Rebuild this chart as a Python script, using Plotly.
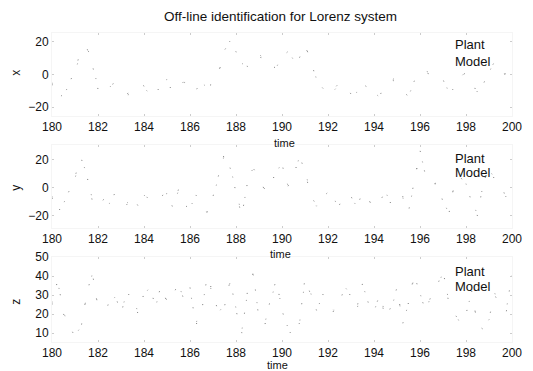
import numpy as np
import plotly.graph_objects as go
from plotly.subplots import make_subplots

# sampled time grid (s)
time = np.linspace(180, 200, 81)

x_plant = [-6, -15, -12, -5, 2, 15, 17, 6, -9, -11,
           -7, -5, -8, -12, -10, -6, -7, -11, -12, -6,
           -4, -11, -8, -4, -5, -10, -4, -7, -6, 2,
           15, 20, 14, 6, 5, 10, 12, 7, 3, 5,
           11, 14, 8, 10, 18, 9, -4, -8, -12, -9,
           -5, -7, -12, -10, -6, -8, -12, -13, -6, -3,
           -5, -9, -14, -4, 2, 1, 0, 1, -3, -12,
           -8, -1, 1, -4, -12, -6, 2, 8, 6, -2,
           -10]
x_model = [-5, -14, -13, -6, 1, 14, 18, 7, -8, -12,
           -8, -4, -7, -13, -11, -5, -8, -12, -11, -5,
           -3, -10, -9, -5, -4, -9, -5, -8, -5, 1,
           13, 21, 15, 7, 4, 9, 13, 8, 2, 4,
           12, 15, 9, 8, 17, 10, -3, -7, -11, -10,
           -6, -6, -11, -11, -7, -7, -11, -14, -7, -2,
           -4, -10, -13, -5, 1, 2, 1, 0, -2, -11,
           -9, -2, 2, -3, -11, -7, 1, 9, 7, -1,
           -9]

y_plant = [-7, -18, -10, -2, 8, 22, 10, -9, -14, -8,
           -12, -3, -8, -12, -6, -13, -4, -9, -10, -6,
           -3, -14, -1, -12, -15, -5, -10, -18, -6, 10,
           25, 14, -2, -20, 4, 14, 8, -2, 2, 12,
           17, 1, 8, 23, 12, -6, -12, -7, -3, -10,
           -12, -4, -6, -14, -3, -8, -14, -10, -2, -12,
           -13, -6, -17, 4, 27, 8, 2, 4, -10, -19,
           4, 8, 2, -10, -20, 4, 14, 6, 4, -8,
           -14]
y_model = [-6, -17, -11, -3, 7, 21, 11, -8, -13, -9,
           -11, -4, -9, -11, -7, -12, -5, -10, -9, -5,
           -4, -13, -2, -11, -14, -6, -9, -17, -7, 9,
           24, 15, -1, -19, 3, 15, 9, -1, 1, 11,
           18, 2, 7, 22, 13, -5, -13, -8, -4, -9,
           -11, -5, -7, -13, -4, -9, -13, -9, -3, -11,
           -14, -7, -16, 3, 26, 9, 3, 3, -9, -18,
           3, 9, 3, -9, -19, 3, 13, 7, 5, -7,
           -13]

z_plant = [25, 38, 20, 14, 8, 12, 30, 42, 23, 24,
           25, 30, 20, 32, 27, 20, 31, 33, 25, 35,
           26, 30, 36, 27, 34, 14, 21, 40, 31, 20,
           24, 38, 22, 10, 32, 42, 17, 14, 28, 38,
           22, 12, 8, 15, 39, 30, 22, 31, 25, 21,
           26, 35, 29, 23, 36, 26, 22, 30, 18, 24,
           34, 15, 26, 41, 30, 22, 30, 35, 43, 26,
           20, 16, 20, 32, 14, 12, 18, 30, 24, 21,
           42]
z_model = [26, 37, 21, 13, 9, 13, 29, 41, 24, 23,
           26, 29, 21, 31, 28, 21, 30, 34, 24, 34,
           27, 29, 35, 28, 33, 15, 22, 39, 30, 21,
           25, 37, 23, 11, 31, 41, 18, 15, 27, 37,
           23, 13, 9, 14, 38, 31, 21, 30, 26, 22,
           25, 34, 30, 22, 35, 27, 21, 31, 19, 23,
           33, 16, 25, 40, 31, 21, 31, 34, 42, 27,
           21, 15, 21, 31, 15, 13, 17, 31, 23, 22,
           41]

x_ticks = [180, 182, 184, 186, 188, 190, 192, 194, 196, 198, 200]
panel_names = ["x", "y", "z"]
panel_ticks = [[-20, 0, 20], [-20, 0, 20], [10, 20, 30, 40, 50]]
panel_ranges = [[-25.5, 25.5], [-28.6, 30.7], [5.3, 50]]
series_names = ["Plant", "Model"]
title_text = "Off-line identification for Lorenz system"
xlabel = "time"

FONT = "Liberation Sans, Arial, sans-serif"
W, H = 533, 371
L, R, T, B = 52, 11, 33, 29
PW, PH = W - L - R, H - T - B


def px(xp):
    return (xp - L) / PW


def py(yp):
    return (H - B - yp) / PH


fig = make_subplots(rows=3, cols=1)

panels = [(x_plant, x_model), (y_plant, y_model), (z_plant, z_model)]
# faded traces: very sparse fine dots
styles = [dict(color="#7a7a7a", width=1, dash="1px,19px"),
          dict(color="#9a9a9a", width=1, dash="1px,27px")]
for i, (plant, model) in enumerate(panels):
    for name, vals, st in zip(series_names, (plant, model), styles):
        fig.add_trace(go.Scatter(x=time, y=vals, mode="lines", name=name,
                                 line=st, showlegend=False), row=i + 1, col=1)

# pixel rows of each axes box
boxes = [(33, 116), (145, 228), (257, 342)]
for i, (top, bot) in enumerate(boxes):
    n = i + 1
    fig.update_xaxes(row=n, col=1, range=[180, 200], tickvals=x_ticks,
                     ticks="inside", ticklen=2, tickcolor="#cccccc",
                     showline=True, linecolor="#f5f5f5", mirror="ticks",
                     showgrid=False, zeroline=False,
                     tickfont=dict(family=FONT, size=12, color="#111"))
    fig.update_yaxes(row=n, col=1, range=panel_ranges[i],
                     tickvals=panel_ticks[i],
                     ticks="inside", ticklen=2, tickcolor="#cccccc",
                     showline=True, linecolor="#f5f5f5", mirror="ticks",
                     showgrid=False, zeroline=False,
                     domain=[py(bot), py(top)],
                     tickfont=dict(family=FONT, size=12, color="#111"))

ann = []
ann.append(dict(text=title_text, x=px(285), y=py(17), xref="paper", yref="paper",
                showarrow=False, xanchor="center", yanchor="middle",
                font=dict(family=FONT, size=13.5, color="#111")))
ylab_pos = [73, 188, 302]
legend_pos = [(44, 61), (158, 173), (271, 286)]
# "time" labels: (x centre, y, anchor)
time_pos = [(290, 143, "middle"), (285, 254, "middle"), (282, 372, "bottom")]
for i in range(3):
    ann.append(dict(text=panel_names[i], x=px(15), y=py(ylab_pos[i]),
                    xref="paper", yref="paper", showarrow=False, textangle=-90,
                    xanchor="center", yanchor="middle",
                    font=dict(family=FONT, size=12, color="#111")))
    tx, ty, ta = time_pos[i]
    ann.append(dict(text=xlabel, x=px(tx), y=py(ty),
                    xref="paper", yref="paper", showarrow=False,
                    xanchor="center", yanchor=ta, borderpad=0,
                    font=dict(family=FONT, size=11, color="#111")))
    for name, yp in zip(series_names, legend_pos[i]):
        ann.append(dict(text=name, x=px(462), y=py(yp), xref="paper", yref="paper",
                        showarrow=False, xanchor="left", yanchor="middle",
                        font=dict(family=FONT, size=13, color="#111")))

fig.update_layout(width=W, height=H, margin=dict(l=L, r=R, t=T, b=B),
                  paper_bgcolor="white", plot_bgcolor="white",
                  annotations=ann, showlegend=False)

fig.write_html("out.html")
